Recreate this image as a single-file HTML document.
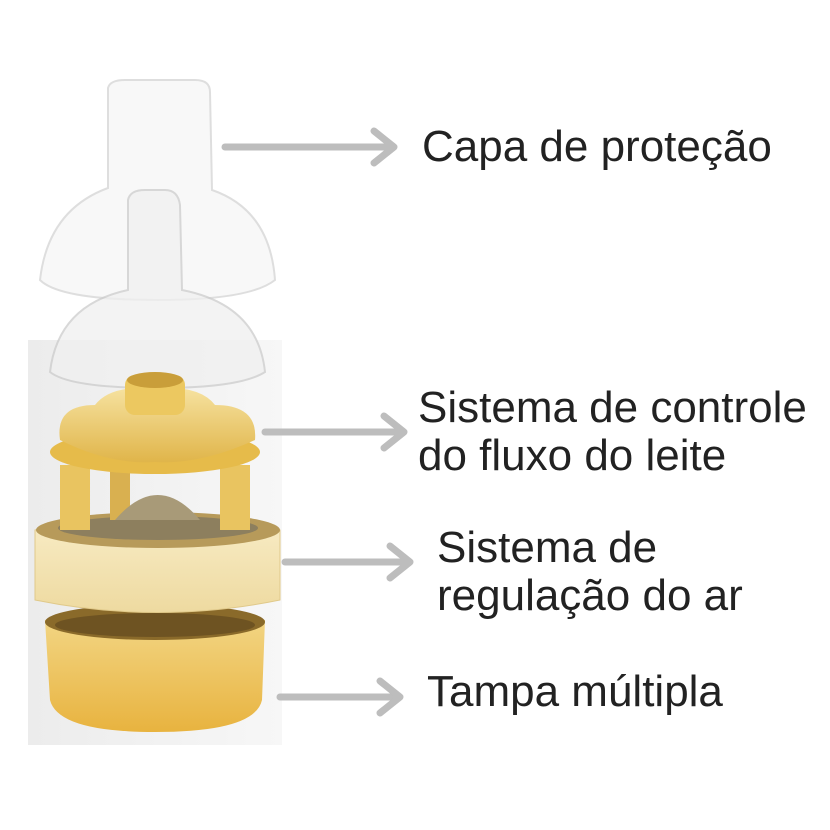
<!DOCTYPE html>
<html><head><meta charset="utf-8">
<style>
html,body{margin:0;padding:0;background:#fff;}
body{width:830px;height:830px;overflow:hidden;position:relative;font-family:"Liberation Sans",sans-serif;}
.t{position:absolute;font-size:44px;color:#222;line-height:48px;white-space:nowrap;}
</style></head><body>
<svg width="830" height="830" style="position:absolute;left:0;top:0">
<defs>
<linearGradient id="y1" x1="0" y1="0" x2="0" y2="1"><stop offset="0" stop-color="#f6e2a0"/><stop offset="1" stop-color="#e0b54a"/></linearGradient>
<linearGradient id="y2" x1="0" y1="0" x2="0" y2="1"><stop offset="0" stop-color="#f3d889"/><stop offset="1" stop-color="#e8b33f"/></linearGradient>
<linearGradient id="cr" x1="0" y1="0" x2="0" y2="1"><stop offset="0" stop-color="#f8ecc6"/><stop offset="1" stop-color="#eedaa0"/></linearGradient>
<linearGradient id="bg" x1="0" y1="0" x2="1" y2="0"><stop offset="0" stop-color="#ececec"/><stop offset="1" stop-color="#f7f7f7"/></linearGradient>
</defs>
<rect x="28" y="340" width="254" height="405" fill="url(#bg)"/>
<path d="M108,88 Q110,80 125,80 L195,80 Q210,80 210,92 L212,190 Q270,210 275,280 Q250,300 158,300 Q60,300 40,280 Q48,210 108,188 Z" fill="#f6f6f6" stroke="#d4d4d4" stroke-width="2" opacity="0.75"/>
<path d="M128,200 Q130,190 145,190 L165,190 Q178,190 180,205 L182,290 Q258,305 265,372 Q240,388 158,388 Q70,388 50,372 Q58,305 128,290 Z" fill="#f0f0f0" stroke="#cccccc" stroke-width="2" opacity="0.75"/>
<path d="M45,620 Q155,600 265,620 L262,700 Q255,732 155,732 Q58,732 50,700 Z" fill="url(#y2)"/>
<ellipse cx="155" cy="622" rx="110" ry="18" fill="#8a6a2a"/>
<ellipse cx="155" cy="625" rx="100" ry="12" fill="#6e5322"/>
<path d="M35,530 Q158,505 280,530 L280,600 Q158,625 35,600 Z" fill="url(#cr)" stroke="#e0c98a"/>
<ellipse cx="158" cy="530" rx="122" ry="18" fill="#b79a5a"/>
<ellipse cx="158" cy="528" rx="100" ry="12" fill="#8d7f5e"/>
<rect x="60" y="465" width="30" height="65" fill="#e9c460"/>
<rect x="220" y="465" width="30" height="65" fill="#e9c460"/>
<rect x="110" y="470" width="20" height="50" fill="#d9b050"/>
<path d="M115,520 Q158,470 200,520 Z" fill="#a89a78"/>
<ellipse cx="155" cy="452" rx="105" ry="22" fill="#e6bb4a"/>
<path d="M60,440 Q55,405 95,405 Q110,385 155,388 Q200,385 215,405 Q258,405 255,440 Q200,465 155,462 Q110,465 60,440 Z" fill="url(#y1)"/>
<rect x="125" y="375" width="60" height="40" rx="10" fill="#ecc860"/>
<ellipse cx="155" cy="380" rx="28" ry="8" fill="#c99e3a"/>
<g stroke="#bdbdbd" stroke-width="7" fill="none" stroke-linecap="round" stroke-linejoin="round">
<line x1="225" y1="147" x2="392" y2="147"/><polyline points="374,131 394,147 374,163"/>
<line x1="265" y1="432" x2="402" y2="432"/><polyline points="384,416 404,432 384,448"/>
<line x1="285" y1="562" x2="408" y2="562"/><polyline points="390,546 410,562 390,578"/>
<line x1="280" y1="697" x2="398" y2="697"/><polyline points="380,681 400,697 380,713"/>
</g>
</svg>
<div class="t" style="left:422px;top:123px">Capa de proteção</div>
<div class="t" style="left:418px;top:384px">Sistema de controle<br>do fluxo do leite</div>
<div class="t" style="left:437px;top:524px">Sistema de<br>regulação do ar</div>
<div class="t" style="left:427px;top:668px">Tampa múltipla</div>
</body></html>
